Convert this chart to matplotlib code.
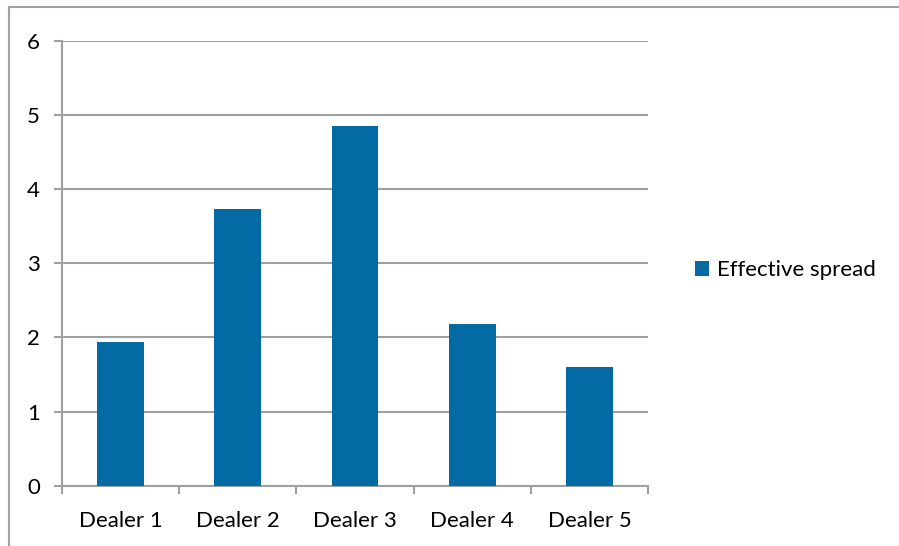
import matplotlib
import matplotlib.pyplot as plt
from matplotlib.lines import Line2D

matplotlib.use('agg')

dealers = ['Dealer 1', 'Dealer 2', 'Dealer 3', 'Dealer 4', 'Dealer 5']
spread = [1.94, 3.73, 4.85, 2.18, 1.60]
series_name = 'Effective spread'

bar_color = '#036aa4'
grid_color = '#a0a0a0'

plt.rcParams['font.family'] = ['Lato', 'DejaVu Sans']

fig = plt.figure(figsize=(8.99, 5.46), dpi=100)
ax = fig.add_axes([62 / 899, 1 - 485.7 / 546, (648 - 62) / 899, (485.7 - 40.7) / 546])

x = list(range(len(dealers)))
ax.bar(x, spread, width=0.4, color=bar_color, label=series_name, zorder=3)

ax.set_xlim(-0.5, len(dealers) - 0.5)
ax.set_ylim(0, 6)
ax.set_yticks(range(0, 7))
ax.set_xticks(x)
ax.set_xticklabels(dealers)
ax.set_xticks([i - 0.5 for i in range(len(dealers) + 1)], minor=True)

ax.yaxis.grid(True, color=grid_color, linewidth=1.5, zorder=0)
ax.set_axisbelow(True)
for s in ['top', 'right']:
    ax.spines[s].set_visible(False)
for s in ['left', 'bottom']:
    ax.spines[s].set_color(grid_color)
    ax.spines[s].set_linewidth(1.5)

ax.tick_params(axis='y', length=6, width=1.5, color=grid_color, pad=10, labelsize=16)
ax.tick_params(axis='x', which='major', length=0, pad=18, labelsize=16)
ax.tick_params(axis='x', which='minor', length=6, width=1.5, color=grid_color)

ax.legend(loc='center left', bbox_to_anchor=(695 / 899, 1 - 270 / 546),
          bbox_transform=fig.transFigure, frameon=False, fontsize=16,
          handlelength=0.65, handleheight=0.65, handletextpad=0.35,
          borderpad=0, borderaxespad=0)

# outer chart-area border (clipped by the image edge)
fig.add_artist(Line2D([9 / 899, 1], [1 - 7 / 546, 1 - 7 / 546],
                      transform=fig.transFigure, color=grid_color, linewidth=1.5))
fig.add_artist(Line2D([9 / 899, 9 / 899], [0, 1 - 7 / 546],
                      transform=fig.transFigure, color=grid_color, linewidth=1.5))

fig.savefig('out.png', dpi=100)
